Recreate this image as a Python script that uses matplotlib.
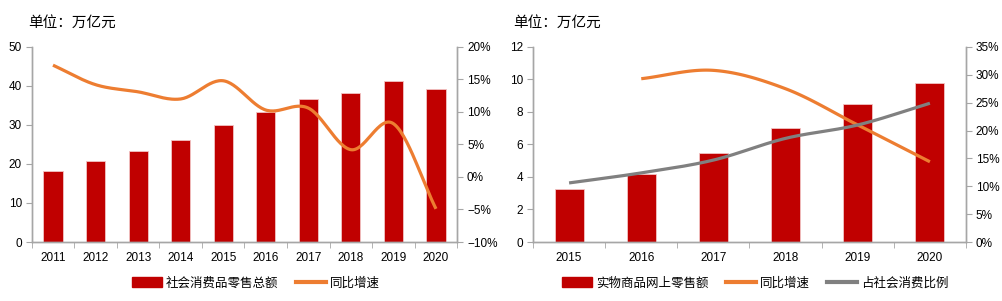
import matplotlib
matplotlib.use("Agg")
import matplotlib.pyplot as plt
import matplotlib.ticker as mticker
from matplotlib.lines import Line2D
from matplotlib.patches import Patch
import numpy as np

plt.rcParams['font.family'] = ['Liberation Sans', 'Noto Sans CJK SC', 'DejaVu Sans']

# ── Data ────────────────────────────────────────────────────────────────────
years_l = ["2011", "2012", "2013", "2014", "2015", "2016", "2017", "2018", "2019", "2020"]
retail_total = [18.1, 20.7, 23.4, 26.2, 30.1, 33.2, 36.6, 38.1, 41.2, 39.2]
retail_growth = [17.2, 14.2, 13.1, 12.0, 14.8, 10.3, 10.6, 4.2, 8.2, -4.9]

years_r = ["2015", "2016", "2017", "2018", "2019", "2020"]
online_total = [3.24, 4.19, 5.48, 7.02, 8.52, 9.76]
online_growth = [None, 29.3, 30.8, 27.5, 21.0, 14.4]
online_share = [10.6, 12.4, 14.7, 18.6, 21.0, 24.9]

RED = "#C00000"
ORANGE = "#ED7D31"
GRAY = "#808080"
SPINE = "#A6A6A6"


def smooth(x, y, n=30):
    # Catmull-Rom style smoothing (like Excel's smoothed line)
    x = np.asarray(x, float)
    y = np.asarray(y, float)
    px = np.concatenate([[2 * x[0] - x[1]], x, [2 * x[-1] - x[-2]]])
    py = np.concatenate([[2 * y[0] - y[1]], y, [2 * y[-1] - y[-2]]])
    xs, ys = [], []
    t = np.linspace(0, 1, n)
    for i in range(1, len(px) - 2):
        p0, p1, p2, p3 = px[i - 1:i + 3]
        q0, q1, q2, q3 = py[i - 1:i + 3]
        c1x, c1y = p1 + (p2 - p0) / 6, q1 + (q2 - q0) / 6
        c2x, c2y = p2 - (p3 - p1) / 6, q2 - (q3 - q1) / 6
        bx = (1 - t) ** 3 * p1 + 3 * (1 - t) ** 2 * t * c1x + 3 * (1 - t) * t ** 2 * c2x + t ** 3 * p2
        by = (1 - t) ** 3 * q1 + 3 * (1 - t) ** 2 * t * c1y + 3 * (1 - t) * t ** 2 * c2y + t ** 3 * q2
        xs.append(bx)
        ys.append(by)
    return np.concatenate(xs), np.concatenate(ys)


def style_axes(ax, ax2, n):
    for a in (ax, ax2):
        a.spines["top"].set_visible(False)
        for s in ("left", "right", "bottom"):
            a.spines[s].set_color(SPINE)
            a.spines[s].set_linewidth(1.0)
        a.tick_params(colors="black", labelsize=8.5, length=4, width=0.8)
        a.tick_params(axis="y", color=SPINE)
    ax.set_xlim(-0.5, n - 0.5)
    ax.set_xticks(np.arange(n))
    ax.set_xticks(np.arange(n + 1) - 0.5, minor=True)
    ax.tick_params(axis="x", which="major", length=0, pad=7)
    ax.tick_params(axis="x", which="minor", length=4, color=SPINE)
    ax.tick_params(axis="y", pad=3)
    ax2.tick_params(axis="y", pad=3)


fig = plt.figure(figsize=(10.03, 3.01), dpi=100)

# ── Left chart ──────────────────────────────────────────────────────────────
ax = fig.add_axes([0.0316, 0.196, 0.4243, 0.648])
ax2 = ax.twinx()
xl = np.arange(len(years_l))
ax.bar(xl, retail_total, width=0.45, color=RED, edgecolor="#F2C4C4", linewidth=0.6, zorder=2)
sx, sy = smooth(xl, retail_growth)
ax2.plot(sx, sy, color=ORANGE, lw=2.3, solid_capstyle="butt")
ax.set_ylim(0, 50)
ax.set_yticks(range(0, 51, 10))
ax2.set_ylim(-10, 20)
ax2.set_yticks(range(-10, 21, 5))
ax2.yaxis.set_major_formatter(mticker.FuncFormatter(lambda v, p: f"{v:.0f}%".replace("-", "−")))
ax.set_xticks(xl)
ax.set_xticklabels(years_l)
style_axes(ax, ax2, len(years_l))
fig.text(0.028, 0.925, "单位：万亿元", fontsize=10.5, va="center", ha="left",
         family=['Noto Sans CJK SC', 'DejaVu Sans'])

handles = [Patch(color=RED, label="社会消费品零售总额"),
           Line2D([], [], color=ORANGE, lw=3, label="同比增速")]
fig.legend(handles=handles, loc="center", bbox_to_anchor=(0.255, 0.06), ncol=2, frameon=False,
           prop={"family": ['Noto Sans CJK SC', 'DejaVu Sans'], "size": 9},
           handlelength=2.4, handleheight=0.8, handletextpad=0.3, columnspacing=1.4)

# ── Right chart ─────────────────────────────────────────────────────────────
bx = fig.add_axes([0.5314, 0.196, 0.4317, 0.648])
bx2 = bx.twinx()
xr = np.arange(len(years_r))
bx.bar(xr, online_total, width=0.4, color=RED, edgecolor="#F2C4C4", linewidth=0.6, zorder=2)
gx = [x for x, v in zip(xr, online_growth) if v is not None]
gy = [v for v in online_growth if v is not None]
sx, sy = smooth(gx, gy)
bx2.plot(sx, sy, color=ORANGE, lw=2.3, solid_capstyle="butt")
sx, sy = smooth(xr, online_share)
bx2.plot(sx, sy, color=GRAY, lw=2.3, solid_capstyle="butt")
bx.set_ylim(0, 12)
bx.set_yticks(range(0, 13, 2))
bx2.set_ylim(0, 35)
bx2.set_yticks(range(0, 36, 5))
bx2.yaxis.set_major_formatter(mticker.FuncFormatter(lambda v, p: f"{v:.0f}%"))
bx.set_xticks(xr)
bx.set_xticklabels(years_r)
style_axes(bx, bx2, len(years_r))
fig.text(0.512, 0.925, "单位：万亿元", fontsize=10.5, va="center", ha="left",
         family=['Noto Sans CJK SC', 'DejaVu Sans'])

handles = [Patch(color=RED, label="实物商品网上零售额"),
           Line2D([], [], color=ORANGE, lw=3, label="同比增速"),
           Line2D([], [], color=GRAY, lw=3, label="占社会消费比例")]
fig.legend(handles=handles, loc="center", bbox_to_anchor=(0.753, 0.06), ncol=3, frameon=False,
           prop={"family": ['Noto Sans CJK SC', 'DejaVu Sans'], "size": 9},
           handlelength=2.4, handleheight=0.8, handletextpad=0.3, columnspacing=1.4)

fig.savefig("out.png", dpi=100)
